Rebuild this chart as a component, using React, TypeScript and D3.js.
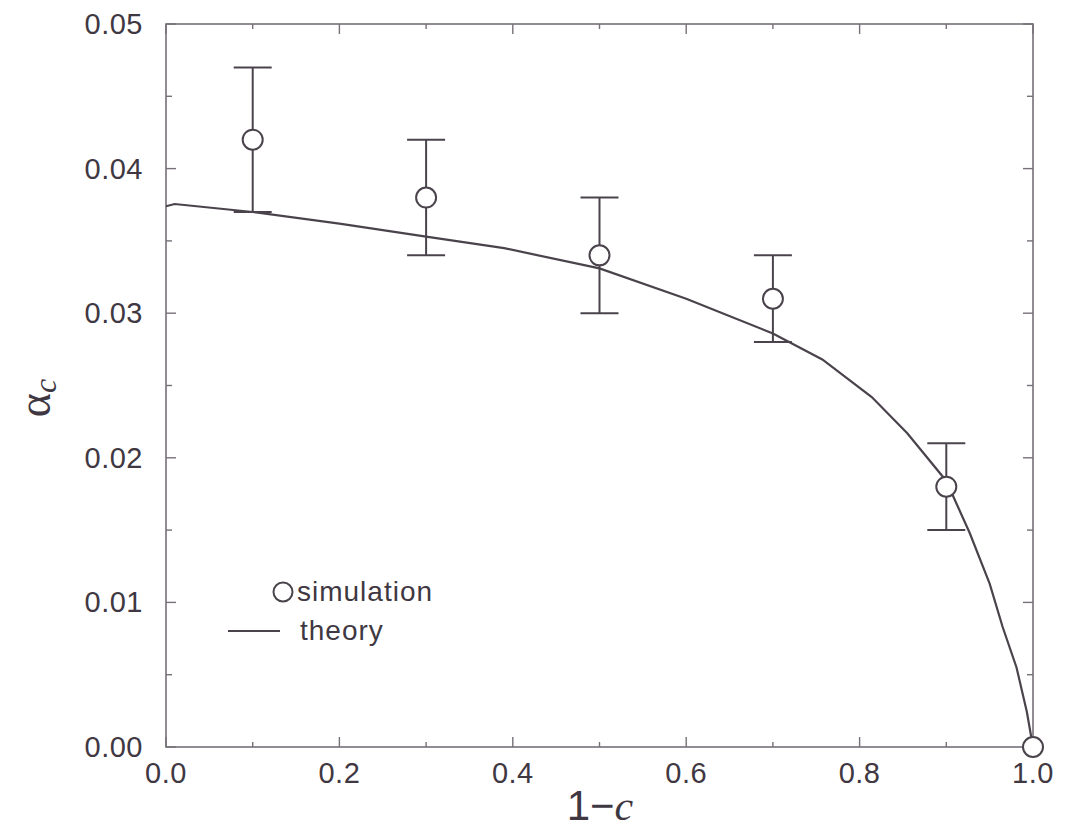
import React from "react";
import * as d3 from "d3";

const simX = [0.1, 0.3, 0.5, 0.7, 0.9, 1.0];
const simY = [0.042, 0.038, 0.034, 0.031, 0.018, 0.0];
const simLo = [0.037, 0.034, 0.030, 0.028, 0.015, null];
const simHi = [0.047, 0.042, 0.038, 0.034, 0.021, null];

const theoryX = [0.0, 0.01, 0.1, 0.2, 0.3, 0.39, 0.5, 0.6, 0.7, 0.757, 0.814, 0.855, 0.9, 0.927, 0.95, 0.965, 0.981, 0.993, 1.0];
const theoryY = [0.0374, 0.03755, 0.0370, 0.0362, 0.0353, 0.0345, 0.0331, 0.0310, 0.0286, 0.0268, 0.0242, 0.0217, 0.0184, 0.0148, 0.0113, 0.0083, 0.0055, 0.0024, 0.0];

const xMajor = [0, 0.2, 0.4, 0.6, 0.8, 1.0];
const xMinor = [0.1, 0.3, 0.5, 0.7, 0.9];
const yMajor = [0, 0.01, 0.02, 0.03, 0.04, 0.05];
const yMinor = [0.005, 0.015, 0.025, 0.035, 0.045];

const W = 1082, H = 830;
const L = 166, R = 1033, T = 24, B = 747;
const axisColor = "#767078";
const inkColor = "#4a434c";
const textColor = "#3f3842";

export default function App() {
  const x = d3.scaleLinear().domain([0, 1]).range([L, R]);
  const y = d3.scaleLinear().domain([0, 0.05]).range([B, T]);
  const line = d3.line<number>().x((_, i) => x(theoryX[i])).y((d) => y(d));
  const font = "'Liberation Sans', Arial, Helvetica, sans-serif";
  const serif = "'Liberation Serif', 'DejaVu Serif', serif";
  const majLen = 10, minLen = 5;

  return (
    <svg width={W} height={H} style={{ position: "absolute", left: 0, top: 0, background: "#fff" }}>
      <rect x={0} y={0} width={W} height={H} fill="#fff" />
      {/* frame */}
      <rect x={L} y={T} width={R - L} height={B - T} fill="none" stroke={axisColor} strokeWidth={1.6} />
      {/* x ticks */}
      {xMajor.map((v, i) => (
        <g key={"xm" + i}>
          <line x1={x(v)} x2={x(v)} y1={B} y2={B - majLen} stroke={axisColor} strokeWidth={1.4} />
          <line x1={x(v)} x2={x(v)} y1={T} y2={T + majLen} stroke={axisColor} strokeWidth={1.4} />
          <text x={x(v)} y={783} textAnchor="middle" fontFamily={font} fontSize={29} letterSpacing={0.5} fill={textColor}>
            {v.toFixed(1)}
          </text>
        </g>
      ))}
      {xMinor.map((v, i) => (
        <g key={"xn" + i}>
          <line x1={x(v)} x2={x(v)} y1={B} y2={B - minLen} stroke={axisColor} strokeWidth={1.4} />
          <line x1={x(v)} x2={x(v)} y1={T} y2={T + minLen} stroke={axisColor} strokeWidth={1.4} />
        </g>
      ))}
      {/* y ticks */}
      {yMajor.map((v, i) => (
        <g key={"ym" + i}>
          <line x1={L} x2={L + majLen} y1={y(v)} y2={y(v)} stroke={axisColor} strokeWidth={1.4} />
          <line x1={R} x2={R - majLen} y1={y(v)} y2={y(v)} stroke={axisColor} strokeWidth={1.4} />
          <text x={143} y={y(v) + 10} textAnchor="end" fontFamily={font} fontSize={29} letterSpacing={0.5} fill={textColor}>
            {v.toFixed(2)}
          </text>
        </g>
      ))}
      {yMinor.map((v, i) => (
        <g key={"yn" + i}>
          <line x1={L} x2={L + minLen + 1} y1={y(v)} y2={y(v)} stroke={axisColor} strokeWidth={1.4} />
          <line x1={R} x2={R - minLen - 1} y1={y(v)} y2={y(v)} stroke={axisColor} strokeWidth={1.4} />
        </g>
      ))}
      {/* theory curve */}
      <path d={line(theoryY) || ""} fill="none" stroke={inkColor} strokeWidth={2.2} />
      {/* error bars */}
      {simX.map((v, i) =>
        simLo[i] != null && simHi[i] != null ? (
          <g key={"eb" + i}>
            <line x1={x(v)} x2={x(v)} y1={y(simLo[i] as number)} y2={y(simHi[i] as number)} stroke={inkColor} strokeWidth={2} />
            <line x1={x(v) - 19} x2={x(v) + 19} y1={y(simHi[i] as number)} y2={y(simHi[i] as number)} stroke={inkColor} strokeWidth={2} />
            <line x1={x(v) - 19} x2={x(v) + 19} y1={y(simLo[i] as number)} y2={y(simLo[i] as number)} stroke={inkColor} strokeWidth={2} />
          </g>
        ) : null
      )}
      {/* points */}
      {simX.map((v, i) => (
        <circle key={"p" + i} cx={x(v)} cy={y(simY[i])} r={10} fill="#fff" stroke={inkColor} strokeWidth={2} />
      ))}
      {/* legend */}
      <circle cx={283} cy={592} r={9.5} fill="#fff" stroke={inkColor} strokeWidth={2} />
      <text x={297} y={601} fontFamily={font} fontSize={28} letterSpacing={1} fill={textColor}>simulation</text>
      <line x1={228} x2={280} y1={631} y2={631} stroke={inkColor} strokeWidth={2} />
      <text x={300} y={640} fontFamily={font} fontSize={28} letterSpacing={1} fill={textColor}>theory</text>
      {/* axis titles */}
      <text x={600} y={820} textAnchor="middle" fontSize={42} fill={textColor}>
        <tspan fontFamily={font}>1−</tspan>
        <tspan fontFamily={serif} fontStyle="italic">c</tspan>
      </text>
      <text transform="translate(50,398) rotate(-90)" textAnchor="middle" fill={textColor}>
        <tspan fontFamily={serif} fontSize={46}>α</tspan>
        <tspan fontFamily={serif} fontStyle="italic" fontSize={32} dy={6}>c</tspan>
      </text>
    </svg>
  );
}
